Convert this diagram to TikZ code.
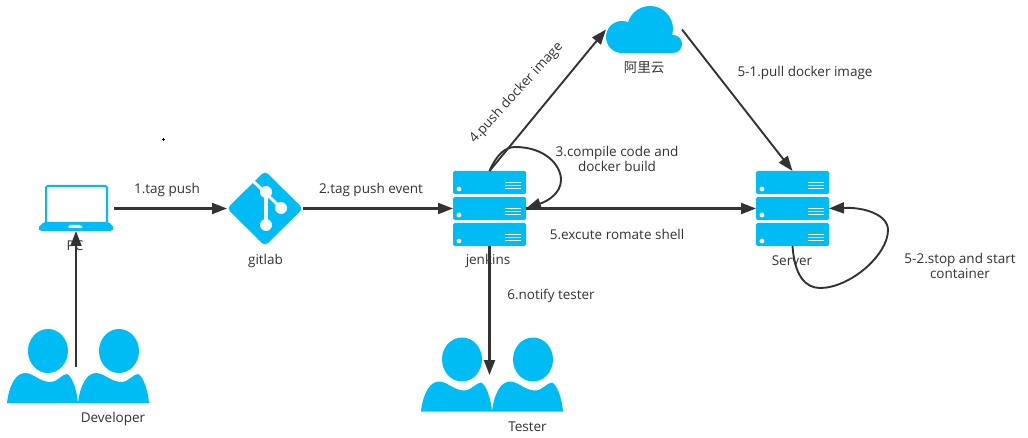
\documentclass[tikz,border=0pt]{standalone}
\usepackage{fontspec}
\setmainfont{Open Sans}
\newfontfamily\cjkfont{Noto Sans CJK SC}
\usetikzlibrary{arrows.meta,shapes.geometric}
\definecolor{iconblue}{HTML}{00BCF5}
\definecolor{inkgray}{HTML}{333333}
\tikzset{
  box/.style={draw=none,fill=none,inner sep=0pt,outer sep=0pt,rectangle},
  label/.style={inner sep=0pt,text=inkgray,font=\fontsize{13.5}{15}\selectfont,align=center},
  conn/.style={draw=inkgray,line width=2.1pt,-{Triangle[length=15pt,width=11pt,fill=inkgray]}},
  thin conn/.style={conn,line width=1.9pt},
  rackunit/.pic={
    \fill[iconblue,rounded corners=1.5pt] (0,0) rectangle (73,23);
    \fill[white] (6,18) circle (2.4);
    \foreach \yy in {12,15,18}{\draw[white,line width=1pt] (52,\yy) -- (68,\yy);}
  },
  rack/.pic={
    \pic at (0,0) {rackunit};
    \pic at (0,26) {rackunit};
    \pic at (0,52) {rackunit};
  },
  oneperson/.pic={
    \fill[iconblue] (0,0) .. controls (2,-18) and (9,-30) .. (18,-30)
      .. controls (26,-30) and (33,-21) .. (43,-21)
      .. controls (51,-21) and (55,-29) .. (60,-29)
      .. controls (65,-27) and (70,-13) .. (71,0) -- cycle;
    \fill[iconblue] (41,-52) ellipse [x radius=20,y radius=22];
  },
  people/.pic={
    \pic at (0,0) {oneperson};
    \pic at (71,0) {oneperson};
  }
}
\begin{document}
\begin{tikzpicture}[x=1pt,y=-1pt]
\useasboundingbox (0,0) rectangle (1028,438);
\fill[white] (0,0) rectangle (1028,438);
% tiny mark
\draw[black,line width=0.6pt] (161.5,139.5) -- (164.5,139.5) (163,138) -- (163,141);

% labels under the arrows
\node[label] (tPC) at (75,246) {PC};
\node[label] (tDev) at (113,418.5) {Developer};
\node[label] (tGit) at (265.5,261) {gitlab};
\node[label] (tJen) at (488,261) {jenkins};
\node[label] (tSrv) at (792,261) {Server};
\node[label] (tTes) at (527.5,426.5) {Tester};
\node[label] (tCloud) at (644,68) {\cjkfont 阿里云};
\node[label] (t1) at (167,190) {1.tag push};
\node[label] (t2) at (371,190) {2.tag push event};
\node[label,rotate=47.5] (t4) at (516.5,93) {4.push docker image};
\node[label] (t3) at (617,158.5) {3.compile code and\\docker build};
\node[label] (t5) at (617,234) {5.excute romate shell};
\node[label] (t51) at (805,73) {5-1.pull docker image};
\node[label] (t6) at (551,296) {6.notify tester};
\node[label] (t52) at (960,265.5) {5-2.stop and start\\container};

% PC
\node[box,minimum width=76pt,minimum height=45pt] (pc) at (76,208.5) {};
\draw[iconblue,line width=2pt,rounded corners=1.5pt] (46,222) -- (46,186) -- (107,186) -- (107,222);
\fill[iconblue,rounded corners=1.5pt] (44,222) -- (109,222) -- (114,228) -- (112,231) -- (40,231) -- (38,228) -- cycle;
\fill[white,rounded corners=1pt] (69,225) -- (81,225) -- (83,228) -- (68,228) -- cycle;

% gitlab
\node[box,diamond,minimum width=76pt,minimum height=75pt] (gitlab) at (265,208.5) {};
\fill[iconblue,rounded corners=4pt] (gitlab.north) -- (gitlab.east) -- (gitlab.south) -- (gitlab.west) -- cycle;
\draw[white,line width=3pt] (253,181) -- (281,208);
\draw[white,line width=3.2pt] (266,192) -- (266,225);
\fill[white] (266,192) circle (6) (281,208) circle (6) (266,225) circle (6);

% jenkins and server
\node[box,minimum width=73pt,minimum height=75pt] (jenkins) at (489.5,208.5) {};
\pic at (453,171) {rack};
\node[box,minimum width=73pt,minimum height=75pt] (server) at (792.5,208.5) {};
\pic at (756,171) {rack};

% cloud
\node[box,minimum width=76pt,minimum height=47pt] (cloud) at (644,29.5) {};
\fill[iconblue] (650,29) circle (23) (622,37) circle (16) (673,44) circle (9);
\fill[iconblue] (622,35) rectangle (673,53);

% people
\node[box,minimum width=142pt,minimum height=74pt] (dev) at (78,366) {};
\pic at (7,403) {people};
\node[box,minimum width=142pt,minimum height=74pt] (tester) at (492,374.5) {};
\pic at (421,411.5) {people};

% free ends
\coordinate (devout) at (76,367);
\coordinate (testerin) at (489.5,375);

% connectors
\draw[thin conn] (devout) -- (pc.south);
\draw[conn] (pc.east) -- (gitlab.west);
\draw[conn] (gitlab.east) -- (jenkins.west);
\draw[conn] (jenkins.east) -- (server.west);
\draw[conn] (jenkins.south) -- (testerin);
\draw[thin conn] (jenkins.north) -- (cloud.west);
\draw[thin conn] (cloud.east) -- (server.north);
\draw[thin conn] (jenkins.north) .. controls +(7,-16) and (505,147) .. (515,147)
  .. controls (545,147) and (561,165) .. (561,180)
  .. controls (561,193) and (548,201) .. (jenkins.east);
\draw[thin conn] (server.south) .. controls +(2,29) and (805,288) .. (820,288)
  .. controls (850,288) and (888,255) .. (888,230)
  .. controls (888,215) and (865,207) .. (server.east);
\end{tikzpicture}
\end{document}
